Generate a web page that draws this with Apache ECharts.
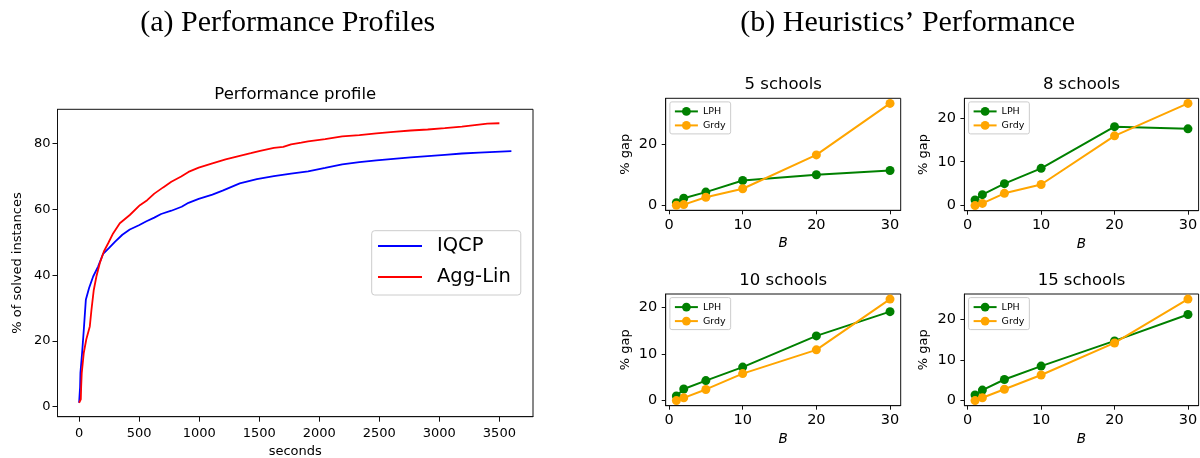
<!DOCTYPE html>
<html><head><meta charset="utf-8">
<script src="https://cdn.jsdelivr.net/npm/echarts@6/dist/echarts.min.js"></script>
<style>html,body{margin:0;padding:0;background:#fff}#c{width:1200px;height:458px}</style>
</head><body><div id="c"></div>
<script>
// ---------- data ----------
const iqcpSec = [0, 5, 8, 11, 25, 39, 56, 83, 117, 158, 200, 250, 300, 360, 422, 498, 561, 626, 683, 768, 854, 911, 996, 1110, 1195, 1338, 1480, 1622, 1765, 1907, 2049, 2191, 2334, 2476, 2618, 2761, 2903, 3045, 3188, 3330, 3600];
const iqcpPct = [1.2, 1.7, 6.0, 10.3, 16.4, 23.4, 32.5, 36.1, 39.6, 42.6, 46.5, 48.3, 50.2, 52.3, 53.9, 55.2, 56.4, 57.5, 58.6, 59.6, 60.8, 62.0, 63.2, 64.5, 65.7, 67.9, 69.2, 70.1, 70.9, 71.6, 72.6, 73.7, 74.4, 74.9, 75.4, 75.8, 76.2, 76.6, 77.0, 77.3, 77.7];
const aggSec = [0, 8, 14, 17, 22, 39, 60, 89, 103, 122, 144, 172, 206, 242, 283, 339, 422, 506, 567, 626, 700, 768, 850, 911, 996, 1110, 1220, 1338, 1430, 1508, 1622, 1700, 1765, 1850, 1907, 2049, 2191, 2334, 2476, 2618, 2761, 2903, 3045, 3188, 3330, 3400, 3500];
const aggPct = [1.2, 1.6, 2.2, 6.0, 10.3, 16.4, 20.5, 24.4, 29.5, 35.5, 39.6, 43.6, 47.2, 49.7, 52.7, 55.8, 58.3, 61.3, 62.8, 64.8, 66.7, 68.4, 70.0, 71.4, 72.7, 74.0, 75.2, 76.3, 77.1, 77.8, 78.7, 79.0, 79.8, 80.3, 80.7, 81.4, 82.2, 82.6, 83.1, 83.6, 84.0, 84.3, 84.7, 85.2, 85.8, 86.1, 86.2];

const budgets = [1, 2, 5, 10, 20, 30];
const lph5 = [0.8, 2.3, 4.3, 8.1, 10.0, 11.4];
const grdy5 = [0.0, 0.2, 2.6, 5.4, 16.5, 33.4];
const lph8 = [1.3, 2.5, 5.0, 8.5, 18.0, 17.5];
const grdy8 = [0.0, 0.5, 2.8, 4.8, 15.9, 23.3];
const lph10 = [1.0, 2.5, 4.3, 7.2, 13.9, 19.1];
const grdy10 = [0.0, 0.6, 2.4, 5.8, 10.9, 21.8];
const lph15 = [1.4, 2.6, 5.2, 8.5, 14.7, 21.2];
const grdy15 = [0.0, 0.7, 2.8, 6.3, 14.2, 25.0];

const profileXTicks = [0, 500, 1000, 1500, 2000, 2500, 3000, 3500];
const profileYTicks = [0, 20, 40, 60, 80];
const gapXTicks = [0, 10, 20, 30];
const gapYTicks5 = [0, 20];
const gapYTicks = [0, 10, 20];
const panelTitles = ['5 schools', '8 schools', '10 schools', '15 schools'];

// ---------- layout ----------
const mainBox = {left: 57.5, top: 109.3, width: 475.5, height: 307.4};
const panelBoxes = [
  {left: 665.7, top: 98.3, width: 235, height: 112},
  {left: 964.4, top: 98.3, width: 234.2, height: 112.4},
  {left: 665.7, top: 294, width: 235, height: 111.7},
  {left: 964.4, top: 294, width: 234.2, height: 111.7}
];
const panels = [
  {lph: lph5, grdy: grdy5, yTicks: gapYTicks5},
  {lph: lph8, grdy: grdy8, yTicks: gapYTicks},
  {lph: lph10, grdy: grdy10, yTicks: gapYTicks},
  {lph: lph15, grdy: grdy15, yTicks: gapYTicks}
];

const FONT = 'DejaVu Sans';
const INK = '#000';
function pad(vals) {
  const lo = Math.min(...vals), hi = Math.max(...vals), m = (hi - lo) * 0.05;
  return [lo - m, hi + m];
}
function zip(a, b) { return a.map((v, i) => [v, b[i]]); }

function axis(opt) {
  return {
    type: 'value', gridIndex: opt.grid, min: opt.range[0], max: opt.range[1],
    name: opt.name || '', nameLocation: 'middle', nameGap: opt.nameGap || 0,
    nameRotate: opt.nameRotate,
    nameTextStyle: Object.assign({fontFamily: FONT, fontSize: 13, color: INK}, opt.nameStyle || {}),
    axisLine: {show: true, onZero: false, lineStyle: {color: '#111', width: 1}},
    axisTick: {show: true, length: opt.tickLen, customValues: opt.ticks, lineStyle: {color: '#111', width: 1}},
    axisLabel: {show: true, customValues: opt.ticks, margin: opt.margin, fontFamily: FONT, fontSize: opt.fontSize, color: INK,
      formatter: v => String(Math.round(v))},
    splitLine: {show: false},
    splitArea: {show: false}
  };
}

const grids = [], xAxes = [], yAxes = [], series = [], titles = [], legends = [];

// main profile chart
grids.push(Object.assign({show: true, borderColor: '#111', borderWidth: 1, backgroundColor: 'transparent', containLabel: false, outerBoundsMode: 'none'}, mainBox));
xAxes.push(axis({grid: 0, range: pad(iqcpSec.concat(aggSec)), ticks: profileXTicks, tickLen: 5, margin: 10, fontSize: 13, name: 'seconds', nameGap: 28.5}));
yAxes.push(axis({grid: 0, range: pad(iqcpPct.concat(aggPct)), ticks: profileYTicks, tickLen: 5, margin: 7, fontSize: 13, name: '% of solved instances', nameGap: 33.5}));
series.push({type: 'line', name: 'IQCP', xAxisIndex: 0, yAxisIndex: 0, data: zip(iqcpSec, iqcpPct), symbol: 'none', color: '#0000ff', lineStyle: {color: '#0000ff', width: 1.8}, z: 3});
series.push({type: 'line', name: 'Agg-Lin', xAxisIndex: 0, yAxisIndex: 0, data: zip(aggSec, aggPct), symbol: 'none', color: '#ff0000', lineStyle: {color: '#ff0000', width: 1.8}, z: 4});
titles.push({text: 'Performance profile', left: mainBox.left + mainBox.width / 2, top: 95, textAlign: 'center', textVerticalAlign: 'middle', padding: 0,
  textStyle: {fontFamily: FONT, fontSize: 16.5, fontWeight: 'normal', color: INK}});
legends.push({data: ['IQCP', 'Agg-Lin'], orient: 'vertical', left: 371.7, top: 230.7, padding: [5.3, 10, 8, 6.3],
  itemWidth: 44, itemHeight: 2, itemGap: 11, icon: 'rect',
  backgroundColor: 'rgba(255,255,255,0.8)', borderColor: '#cccccc', borderWidth: 1, borderRadius: 3,
  textStyle: {fontFamily: FONT, fontSize: 19.5, lineHeight: 20, color: INK, padding: [0, 0, 0, 10]}});

// heuristic panels
panels.forEach((p, i) => {
  const g = i + 1, box = panelBoxes[i];
  grids.push(Object.assign({show: true, borderColor: '#111', borderWidth: 1, backgroundColor: 'transparent', containLabel: false, outerBoundsMode: 'none'}, box));
  xAxes.push(axis({grid: g, range: pad(budgets), ticks: gapXTicks, tickLen: 4, margin: 7.5, fontSize: 14.5, name: 'B', nameGap: 26.5, nameStyle: {fontStyle: 'italic', fontSize: 13.5}}));
  yAxes.push(axis({grid: g, range: pad(p.lph.concat(p.grdy)), ticks: p.yTicks, tickLen: 4, margin: 8.4, fontSize: 14.5, name: '% gap', nameGap: 34}));
  series.push({type: 'line', name: 'LPH', xAxisIndex: g, yAxisIndex: g, data: zip(budgets, p.lph), symbol: 'circle', symbolSize: 9,
    color: '#008000', itemStyle: {color: '#008000'}, lineStyle: {color: '#008000', width: 2}, z: 3});
  series.push({type: 'line', name: 'Grdy', xAxisIndex: g, yAxisIndex: g, data: zip(budgets, p.grdy), symbol: 'circle', symbolSize: 9,
    color: '#ffa500', itemStyle: {color: '#ffa500'}, lineStyle: {color: '#ffa500', width: 2}, z: 4});
  titles.push({text: panelTitles[i], left: box.left + box.width / 2, top: box.top - 13.3, textAlign: 'center', textVerticalAlign: 'middle', padding: 0,
    textStyle: {fontFamily: FONT, fontSize: 16.5, fontWeight: 'normal', color: INK}});
  legends.push({data: ['LPH', 'Grdy'], orient: 'vertical', left: box.left + 4.2, top: box.top + 3.6, padding: [4, 5, 3, 4],
    itemWidth: 23, itemHeight: 11, itemGap: 3,
    backgroundColor: 'rgba(255,255,255,0.8)', borderColor: '#cccccc', borderWidth: 1, borderRadius: 2,
    textStyle: {fontFamily: FONT, fontSize: 9.5, lineHeight: 11, color: INK}});
});

// figure captions
titles.push({text: '(a) Performance Profiles', left: 287.7, top: 23, textAlign: 'center', textVerticalAlign: 'middle', padding: 0,
  textStyle: {fontFamily: 'Liberation Serif', fontSize: 30, fontWeight: 'normal', color: INK}});
titles.push({text: '(b) Heuristics\u2019 Performance', left: 907.7, top: 23, textAlign: 'center', textVerticalAlign: 'middle', padding: 0,
  textStyle: {fontFamily: 'Liberation Serif', fontSize: 30, fontWeight: 'normal', color: INK}});

const chart = echarts.init(document.getElementById('c'), null, {renderer: 'canvas', width: 1200, height: 458});
chart.setOption({
  animation: false,
  backgroundColor: '#ffffff',
  title: titles,
  legend: legends,
  grid: grids,
  xAxis: xAxes,
  yAxis: yAxes,
  series: series
});
</script>
</body></html>
